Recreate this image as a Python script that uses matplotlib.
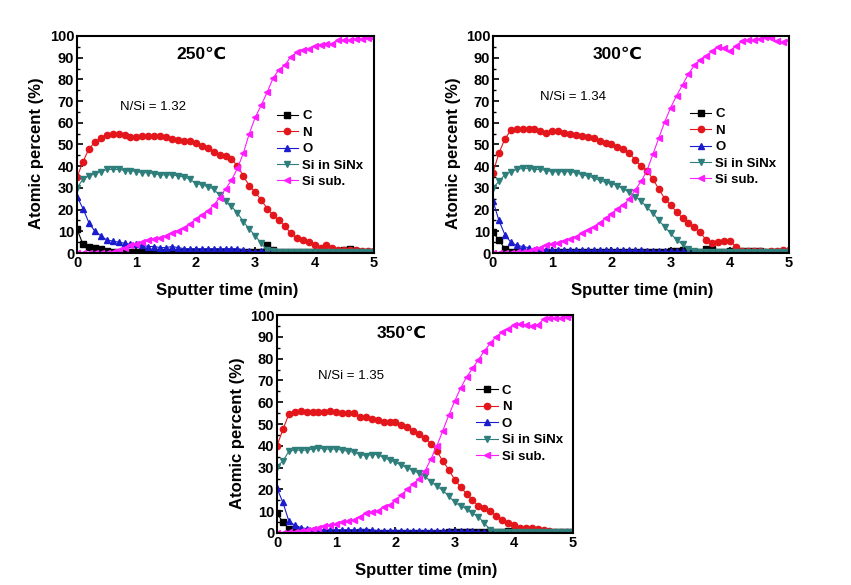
import numpy as np
import matplotlib
matplotlib.use("Agg")
import matplotlib.pyplot as plt
from matplotlib.ticker import MultipleLocator

plt.rcParams['font.family'] = ['Liberation Sans', 'DejaVu Sans']

# ---------------- data ----------------
time_min = [round(0.1 * i, 1) for i in range(51)]
series_names = ["C", "N", "O", "Si in SiNx", "Si sub."]
temps = ["250℃", "300℃", "350℃"]
ratios = ["N/Si = 1.32", "N/Si = 1.34", "N/Si = 1.35"]

# 250 C
c_250 = [11, 4, 3, 2.5, 2, 1, 0.5, 0.3, 0.3, 0.3, 0.3, 0.3, 0.3, 0.3, 0.3, 0.3, 0.3,
         0.3, 0.3, 0.3, 0.3, 0.3, 0.3, 0.3, 0.3, 0.3, 0.3, 0.3, 0.3, 0.3, 0.3, 0.3,
         3.5, 1.5, 0.5, 0.3, 0.3, 0.3, 0.3, 0.5, 0.5, 0.5, 0.5, 0.5, 1, 1.5, 2, 1,
         0.5, 0.5, 0.5]
n_250 = [35, 42, 48, 51, 53, 54.5, 55, 55, 54.5, 53.5, 53.5, 54, 54, 54, 54, 53.5,
         52.5, 52, 51.5, 51.5, 50.5, 49.5, 48.5, 46.5, 45, 44.5, 43.5, 40, 35.5, 31,
         28, 24.5, 20.5, 17.5, 15, 12.5, 9, 7, 6, 5, 3.5, 2.5, 3.5, 2.5, 1.5, 1.5,
         1.5, 1.5, 1, 1, 1]
o_250 = [26, 20.5, 14, 10, 8, 6, 5.5, 5, 4.5, 4, 4, 3.5, 3, 3, 2.5, 2.5, 3, 2.5, 2,
         2, 2, 2, 2, 2, 2, 2, 2, 2, 1.5, 1, 0.5, 1, 0.5, 0.5, 0.5, 0.3, 0.3, 0.3,
         0.3, 0.3, 0.3, 0.3, 0.3, 0.3, 0.3, 0.3, 0.3, 0.3, 0.3, 0.3, 0.3]
si_n_250 = [30, 34, 35.5, 36.5, 37.5, 38.5, 38.5, 38.5, 38, 38, 37.5, 37, 37, 36.5,
            36, 36, 36, 35.5, 35, 34, 32, 31.5, 30.5, 29.5, 26.5, 24, 21.5, 18.5,
            14.5, 11, 8, 4.5, 1.5, 1, 0.5, 0.5, 0.5, 0.5, 0.5, 0.5, 0.5, 0.5, 0.5,
            0.5, 0.5, 0.5, 0.5, 0.5, 0.5, 0.5, 0.5]
si_s_250 = [0, 0, 0, 0, 0, 0, 0.5, 1.5, 2.5, 3.5, 4, 5, 6, 6.5, 7, 8, 9, 10, 11.5,
            13.5, 15.5, 17.5, 19.5, 22, 25.5, 29.5, 33.5, 39, 46, 55, 62.5, 68, 74,
            80.5, 84.5, 86.5, 90.5, 92.5, 93.5, 94, 95.5, 96, 96.5, 96.5, 98, 98, 98,
            98.5, 98.5, 99, 99]

# 300 C
c_300 = [9.5, 6, 2, 0.5, 0.3, 0.3, 0.3, 0.3, 0.3, 0.3, 0.3, 0.3, 0.3, 0.3, 0.3, 0.3,
         0.3, 0.3, 0.3, 0.3, 0.3, 0.3, 0.3, 0.3, 0.3, 0.3, 0.3, 0.3, 0.5, 0.5, 0.8,
         1, 1.5, 0.5, 0.5, 0.5, 2, 2, 0.5, 0.5, 1, 1, 1, 1, 1, 1, 0.5, 0.5, 0.5,
         0.5, 0.5]
n_300 = [37, 46, 52.5, 56.5, 57, 57, 57, 57, 56, 55.5, 56, 56, 55.5, 55, 54.5, 54,
         53.5, 53, 51.5, 50.5, 50, 49, 48, 46, 43, 40, 38, 34, 29.5, 25, 22, 19, 16,
         14, 12, 9.5, 6, 4.5, 5, 5.5, 5.5, 3, 1, 1, 1, 1, 0.5, 1, 1, 1.5, 1.5]
o_300 = [24, 15, 8.5, 5, 3.5, 3, 2.5, 1.5, 1.5, 1.5, 1.5, 1.2, 1.2, 1.2, 1.2, 1.2,
         1.2, 1.2, 1.2, 1.2, 1.2, 1.2, 1.2, 1.2, 1.2, 1.2, 0.8, 0.8, 0.8, 0.8, 0.8,
         0.8, 0.8, 0.5, 0.5, 0.5, 0.3, 0.3, 0.3, 0.3, 0.3, 0.3, 0.3, 0.3, 0.3, 0.3,
         0.3, 0.3, 0.3, 0.3, 0.3]
si_n_300 = [30, 33, 36, 37.5, 38.5, 39, 39, 38.5, 38.5, 38, 37.5, 37.5, 37.5, 37.5,
            37, 36, 35.5, 34.5, 33.5, 32.5, 32, 31, 29.5, 28, 26, 24, 21, 18.5, 15,
            12, 9, 6, 4, 2, 1, 0.5, 0.5, 0.5, 0.5, 0.5, 0.5, 0.5, 0.5, 0.5, 0.5,
            0.5, 0.5, 0.5, 0.5, 0.5, 0.5]
si_s_300 = [0, 0, 0, 0, 0.3, 0.5, 1, 2, 2.5, 3.5, 4, 4.5, 5.5, 6.5, 7.5, 9, 10.5,
            12, 14, 16, 18, 20.5, 22, 25, 29, 33, 38, 45.5, 53, 60.5, 67, 72.5, 77.5,
            82.5, 86.5, 89, 91, 93, 95, 94.5, 93, 95.5, 97.5, 98, 98, 98.5, 99.5, 99,
            97.5, 97, 98]

# 350 C
c_350 = [9, 5, 2, 2, 0.5, 0.2, 0.2, 0.2, 0.2, 0.2, 0.2, 0.2, 0.2, 0.2, 0.5, 0.3,
         0.2, 0.2, 0.2, 0.2, 0.2, 0.2, 0.2, 0.2, 0.2, 0.2, 0.2, 0.2, 0.2, 0.3, 0.3,
         0.3, 0.5, 0.5, 0.3, 0.3, 0.3, 0.3, 0.5, 1, 1, 1, 1, 1, 1, 0.5, 0.5, 0.5,
         0.5, 0.5, 0.5]
n_350 = [40, 47.5, 54.5, 55.5, 56, 55.5, 55.5, 55.5, 55.5, 56, 55.5, 55, 55, 55, 53,
         53, 52.5, 52, 51, 51, 51, 49.5, 48.5, 47, 45.5, 43.5, 41, 37.5, 33, 29,
         24.5, 21, 18, 15, 12.5, 11.5, 10, 8, 6, 4.5, 3.5, 2.5, 2.5, 2.5, 2, 1.5,
         1, 0.5, 0.5, 0.5, 0.5]
o_350 = [20.5, 14, 5.5, 3.5, 2.5, 2, 1.5, 1.5, 1.5, 1.5, 1.5, 1.5, 1.5, 1.5, 1.5,
         1.5, 1.5, 1, 1, 1, 1, 1, 1, 1, 1, 1, 1, 1, 0.8, 0.8, 0.8, 0.8, 0.8, 0.8,
         0.5, 0.5, 0.3, 0.3, 0.3, 0.3, 0.3, 0.3, 0.3, 0.3, 0.3, 0.3, 0.3, 0.3, 0.3,
         0.3, 0.3]
si_n_350 = [30.5, 33, 37.5, 38, 38, 38, 38.5, 39, 38.5, 38.5, 38.5, 38, 37.5, 37,
            36, 35.5, 36, 36, 34.5, 33.5, 32.5, 31, 30, 28.5, 27.5, 26, 23.5, 21.5,
            19.5, 17, 14, 12.5, 11, 9, 7.5, 4.5, 1.5, 0.5, 0.5, 0.5, 0.5, 0.5, 0.5,
            0.5, 0.5, 0.5, 0.5, 0.5, 0.5, 0.5, 0.5]
si_s_350 = [0, 0, 0.3, 0.5, 1, 1.5, 2, 2.5, 3, 3.5, 4, 5, 5.5, 6, 7.5, 9, 9.5, 10, 12,
            13, 15, 17.5, 20, 22.5, 25, 28.5, 34, 40, 47, 54, 60.5, 66.5, 71.5, 75.5,
            79.5, 83.5, 87, 90, 92, 93.5, 95.5, 96, 95.5, 95, 95.5, 98, 98.5, 98.5,
            98.5, 99, 99.5]

panels = [
    [c_250, n_250, o_250, si_n_250, si_s_250],
    [c_300, n_300, o_300, si_n_300, si_s_300],
    [c_350, n_350, o_350, si_n_350, si_s_350],
]

colors = ["#000000", "#e3161c", "#1c1ccf", "#2e7e7b", "#ff1cff"]
markers = ["s", "o", "^", "v", "<"]

# axes rectangles [left, bottom, width, height] in figure fraction
rects = [
    [0.0905, 0.5675, 0.349, 0.371],
    [0.5793, 0.5675, 0.348, 0.371],
    [0.3255, 0.0889, 0.348, 0.3726],
]
ratio_pos = [(0.145, 0.673), (0.159, 0.72), (0.139, 0.72)]
legend_pos = [(0.672, 0.659), (0.664, 0.668), (0.672, 0.68)]

fig = plt.figure(figsize=(8.51, 5.85), dpi=100)

for p in range(3):
    ax = fig.add_axes(rects[p])
    for s in range(5):
        ax.plot(time_min, panels[p][s], color=colors[s], marker=markers[s],
                markersize=4.5, linewidth=0.8, label=series_names[s])
    ax.set_xlim(0, 5)
    ax.set_ylim(0, 100)
    ax.xaxis.set_major_locator(MultipleLocator(1))
    ax.yaxis.set_major_locator(MultipleLocator(10))
    ax.yaxis.set_minor_locator(MultipleLocator(5))
    ax.tick_params(axis='both', which='major', direction='in', length=4, width=1.2,
                   labelsize=10.5, pad=2, top=False, right=False)
    ax.tick_params(axis='y', which='minor', direction='in', length=2, width=1)
    for lab in ax.get_xticklabels() + ax.get_yticklabels():
        lab.set_fontweight('bold')
    for sp in ax.spines.values():
        sp.set_linewidth(1.5)
    ax.set_xlabel("Sputter time (min)", fontsize=12, fontweight='bold')
    ax.set_ylabel("Atomic percent (%)", fontsize=12, fontweight='bold')
    ax.xaxis.set_label_coords(0.505, -0.174)
    ax.xaxis.label.set_va('center')
    ax.yaxis.set_label_coords(-0.135, 0.46)
    ax.yaxis.label.set_va('center')
    ax.text(0.42, 0.917, temps[p], transform=ax.transAxes, ha='center', va='center',
            fontsize=12.5, fontweight='bold')
    ax.text(ratio_pos[p][0], ratio_pos[p][1], ratios[p], transform=ax.transAxes,
            ha='left', va='center', fontsize=9.5)
    leg = ax.legend(loc='upper left', bbox_to_anchor=legend_pos[p], frameon=False,
                    fontsize=9.5, handlelength=1.65, handletextpad=0.3,
                    labelspacing=0.32, borderpad=0, borderaxespad=0)
    for t in leg.get_texts():
        t.set_fontweight('bold')

fig.savefig("out.png", dpi=100)
